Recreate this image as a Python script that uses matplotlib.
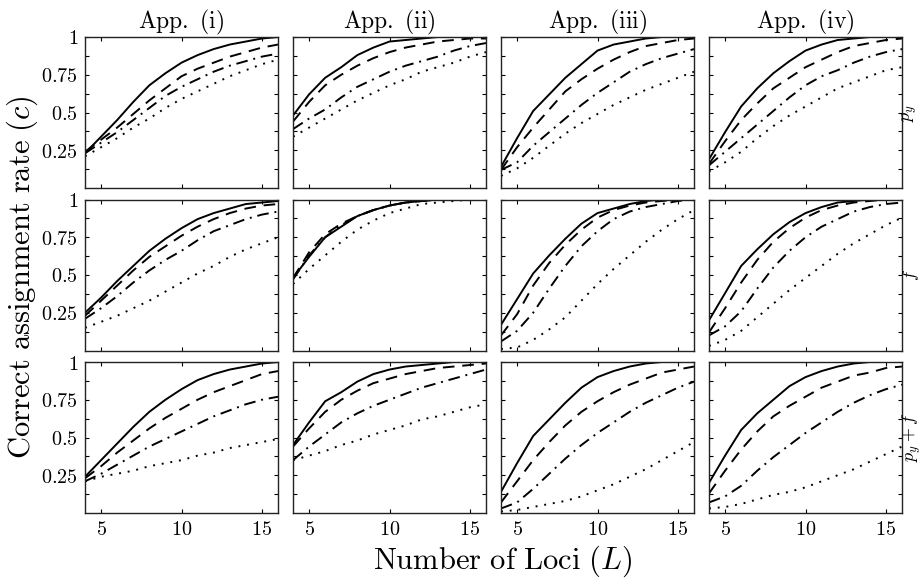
import matplotlib
matplotlib.use('Agg')
import matplotlib.pyplot as plt
import numpy as np

plt.rcParams['mathtext.fontset'] = 'cm'
plt.rcParams['font.family'] = 'serif'
plt.rcParams['font.serif'] = ['DejaVu Serif']

L = list(range(4, 17))

# each panel: [solid, dashed, dash-dot, dotted]
py_i = [[0.23, 0.34, 0.45, 0.57, 0.68, 0.76, 0.83, 0.88, 0.92, 0.95, 0.97, 0.99, 1.0],
        [0.24, 0.32, 0.40, 0.49, 0.58, 0.66, 0.74, 0.79, 0.83, 0.87, 0.90, 0.93, 0.95],
        [0.23, 0.30, 0.37, 0.45, 0.53, 0.61, 0.67, 0.72, 0.77, 0.81, 0.84, 0.87, 0.89],
        [0.21, 0.27, 0.33, 0.40, 0.46, 0.53, 0.59, 0.64, 0.69, 0.74, 0.78, 0.82, 0.85]]
py_ii = [[0.48, 0.62, 0.73, 0.80, 0.88, 0.93, 0.97, 0.98, 0.99, 1.0, 1.0, 1.0, 1.0],
         [0.44, 0.57, 0.68, 0.75, 0.81, 0.86, 0.90, 0.93, 0.95, 0.97, 0.98, 0.99, 0.99],
         [0.39, 0.46, 0.52, 0.60, 0.67, 0.72, 0.77, 0.81, 0.84, 0.87, 0.91, 0.94, 0.96],
         [0.34, 0.40, 0.46, 0.52, 0.58, 0.63, 0.68, 0.72, 0.77, 0.80, 0.83, 0.87, 0.90]]
py_iii = [[0.14, 0.33, 0.51, 0.62, 0.73, 0.82, 0.91, 0.95, 0.97, 0.99, 1.0, 1.0, 1.0],
          [0.12, 0.27, 0.40, 0.52, 0.64, 0.72, 0.79, 0.85, 0.90, 0.94, 0.96, 0.98, 0.99],
          [0.12, 0.17, 0.28, 0.37, 0.46, 0.55, 0.63, 0.70, 0.77, 0.82, 0.86, 0.89, 0.92],
          [0.08, 0.13, 0.20, 0.28, 0.36, 0.43, 0.49, 0.55, 0.60, 0.65, 0.69, 0.73, 0.77]]
py_iv = [[0.19, 0.37, 0.54, 0.66, 0.76, 0.84, 0.91, 0.95, 0.98, 0.99, 1.0, 1.0, 1.0],
         [0.16, 0.31, 0.45, 0.56, 0.66, 0.73, 0.80, 0.85, 0.90, 0.94, 0.96, 0.98, 0.99],
         [0.15, 0.24, 0.33, 0.42, 0.51, 0.60, 0.68, 0.74, 0.78, 0.83, 0.87, 0.90, 0.92],
         [0.11, 0.17, 0.24, 0.33, 0.41, 0.48, 0.54, 0.60, 0.66, 0.70, 0.74, 0.78, 0.80]]

f_i = [[0.25, 0.35, 0.46, 0.56, 0.66, 0.74, 0.81, 0.87, 0.91, 0.94, 0.97, 0.98, 0.99],
       [0.23, 0.33, 0.43, 0.53, 0.62, 0.69, 0.76, 0.82, 0.87, 0.91, 0.94, 0.96, 0.97],
       [0.21, 0.28, 0.36, 0.45, 0.53, 0.60, 0.66, 0.73, 0.79, 0.83, 0.87, 0.90, 0.92],
       [0.15, 0.19, 0.23, 0.28, 0.33, 0.39, 0.45, 0.51, 0.56, 0.62, 0.67, 0.71, 0.75]]
f_ii = [[0.48, 0.62, 0.75, 0.82, 0.89, 0.93, 0.96, 0.98, 0.99, 1.0, 1.0, 1.0, 1.0],
        [0.48, 0.65, 0.77, 0.84, 0.89, 0.93, 0.96, 0.98, 0.99, 1.0, 1.0, 1.0, 1.0],
        [0.47, 0.63, 0.75, 0.83, 0.89, 0.93, 0.96, 0.98, 0.99, 1.0, 1.0, 1.0, 1.0],
        [0.44, 0.54, 0.63, 0.72, 0.80, 0.86, 0.91, 0.94, 0.97, 0.98, 0.99, 1.0, 1.0]]
f_iii = [[0.17, 0.34, 0.51, 0.63, 0.74, 0.84, 0.91, 0.94, 0.97, 0.99, 1.0, 1.0, 1.0],
         [0.10, 0.24, 0.43, 0.58, 0.70, 0.80, 0.88, 0.93, 0.96, 0.98, 0.99, 1.0, 1.0],
         [0.06, 0.13, 0.25, 0.41, 0.56, 0.69, 0.79, 0.87, 0.92, 0.95, 0.97, 0.99, 1.0],
         [0.01, 0.02, 0.07, 0.14, 0.22, 0.33, 0.44, 0.54, 0.63, 0.72, 0.80, 0.87, 0.93]]
f_iv = [[0.20, 0.38, 0.56, 0.67, 0.77, 0.85, 0.91, 0.95, 0.98, 0.99, 1.0, 1.0, 1.0],
        [0.12, 0.28, 0.45, 0.60, 0.72, 0.81, 0.88, 0.93, 0.96, 0.98, 0.99, 1.0, 1.0],
        [0.10, 0.16, 0.26, 0.41, 0.55, 0.66, 0.75, 0.82, 0.87, 0.92, 0.95, 0.97, 0.98],
        [0.03, 0.07, 0.13, 0.22, 0.31, 0.40, 0.48, 0.56, 0.64, 0.71, 0.77, 0.83, 0.88]]

pyf_i = [[0.24, 0.35, 0.46, 0.57, 0.67, 0.75, 0.82, 0.88, 0.92, 0.95, 0.97, 0.99, 1.0],
         [0.23, 0.31, 0.40, 0.48, 0.56, 0.63, 0.69, 0.75, 0.80, 0.84, 0.88, 0.92, 0.94],
         [0.21, 0.26, 0.32, 0.38, 0.44, 0.49, 0.54, 0.59, 0.64, 0.68, 0.72, 0.75, 0.77],
         [0.21, 0.24, 0.26, 0.28, 0.31, 0.33, 0.35, 0.38, 0.40, 0.43, 0.45, 0.47, 0.49]]
pyf_ii = [[0.45, 0.60, 0.74, 0.80, 0.87, 0.92, 0.95, 0.97, 0.98, 0.99, 1.0, 1.0, 1.0],
          [0.44, 0.56, 0.67, 0.75, 0.81, 0.86, 0.89, 0.92, 0.94, 0.96, 0.97, 0.98, 0.99],
          [0.35, 0.44, 0.52, 0.60, 0.66, 0.71, 0.75, 0.79, 0.83, 0.86, 0.89, 0.92, 0.95],
          [0.35, 0.38, 0.41, 0.45, 0.48, 0.52, 0.55, 0.58, 0.62, 0.64, 0.67, 0.70, 0.72]]
pyf_iii = [[0.14, 0.33, 0.51, 0.62, 0.73, 0.83, 0.90, 0.94, 0.97, 0.99, 1.0, 1.0, 1.0],
           [0.07, 0.21, 0.35, 0.47, 0.58, 0.67, 0.74, 0.80, 0.85, 0.89, 0.93, 0.95, 0.97],
           [0.03, 0.07, 0.16, 0.26, 0.36, 0.45, 0.53, 0.60, 0.67, 0.73, 0.78, 0.83, 0.87],
           [0.01, 0.02, 0.04, 0.06, 0.08, 0.11, 0.15, 0.19, 0.24, 0.29, 0.35, 0.41, 0.47]]
pyf_iv = [[0.20, 0.38, 0.55, 0.66, 0.75, 0.84, 0.90, 0.94, 0.97, 0.99, 1.0, 1.0, 1.0],
          [0.13, 0.28, 0.42, 0.54, 0.64, 0.71, 0.77, 0.83, 0.87, 0.91, 0.93, 0.96, 0.97],
          [0.07, 0.11, 0.18, 0.28, 0.37, 0.45, 0.53, 0.60, 0.67, 0.73, 0.78, 0.82, 0.85],
          [0.03, 0.04, 0.06, 0.09, 0.12, 0.14, 0.17, 0.21, 0.25, 0.29, 0.34, 0.39, 0.44]]

panels = [[py_i, py_ii, py_iii, py_iv],
          [f_i, f_ii, f_iii, f_iv],
          [pyf_i, pyf_ii, pyf_iii, pyf_iv]]
col_titles = [r'$\mathrm{App.\ (i)}$', r'$\mathrm{App.\ (ii)}$',
              r'$\mathrm{App.\ (iii)}$', r'$\mathrm{App.\ (iv)}$']
row_labels = [r'$p_y$', r'$f$', r'$p_y + f$']
ytick_vals = [0.125, 0.25, 0.375, 0.5, 0.625, 0.75, 0.875, 1.0]
ytick_text = ['', r'$0.25$', '', r'$0.5$', '', r'$0.75$', '', r'$1$']
xtick_vals = [5, 10, 15]

styles = [dict(ls='-'), dict(ls=(0, (6, 4))), dict(ls=(0, (6, 3, 1, 3))), dict(ls=(0, (1, 3.5)))]

W, H = 924, 581
fig = plt.figure(figsize=(W / 100, H / 100), dpi=100)

col_left = [85, 293, 501, 709]
row_top = [37, 199.5, 362]
aw, ah = 193, 151

for r in range(3):
    for c in range(4):
        ax = fig.add_axes([col_left[c] / W, 1 - (row_top[r] + ah) / H, aw / W, ah / H])
        for series, st in zip(panels[r][c], styles):
            ax.plot(L, series, color='k', lw=1.4, **st)
        ax.set_xlim(4, 16)
        ax.set_ylim(0, 1)
        ax.set_xticks(xtick_vals)
        ax.set_yticks(ytick_vals)
        ax.tick_params(direction='in', top=True, right=True, length=3, width=0.8, pad=5)
        if c == 0:
            ax.set_yticklabels(ytick_text, fontsize=14.5)
        else:
            ax.set_yticklabels([])
        if r == 2:
            ax.set_xticklabels([r'$%d$' % v for v in xtick_vals], fontsize=14.5)
        else:
            ax.set_xticklabels([])
        if r == 0:
            ax.set_title(col_titles[c], fontsize=17, pad=4)
        for sp in ax.spines.values():
            sp.set_linewidth(1.0)
            sp.set_color('#222222')

for r in range(3):
    fig.text(901 / W, 1 - (row_top[r] + ah / 2) / H, row_labels[r], rotation=90,
             ha='left', va='center', fontsize=13)

fig.text(22 / W, 1 - 277 / H, r'$\mathrm{Correct\ assignment\ rate\ }(c)$', rotation=90,
         ha='center', va='center', fontsize=22)
fig.text(503 / W, 1 - 561 / H, r'$\mathrm{Number\ of\ Loci\ }(L)$',
         ha='center', va='center', fontsize=22)

fig.savefig('out.png', dpi=100)
